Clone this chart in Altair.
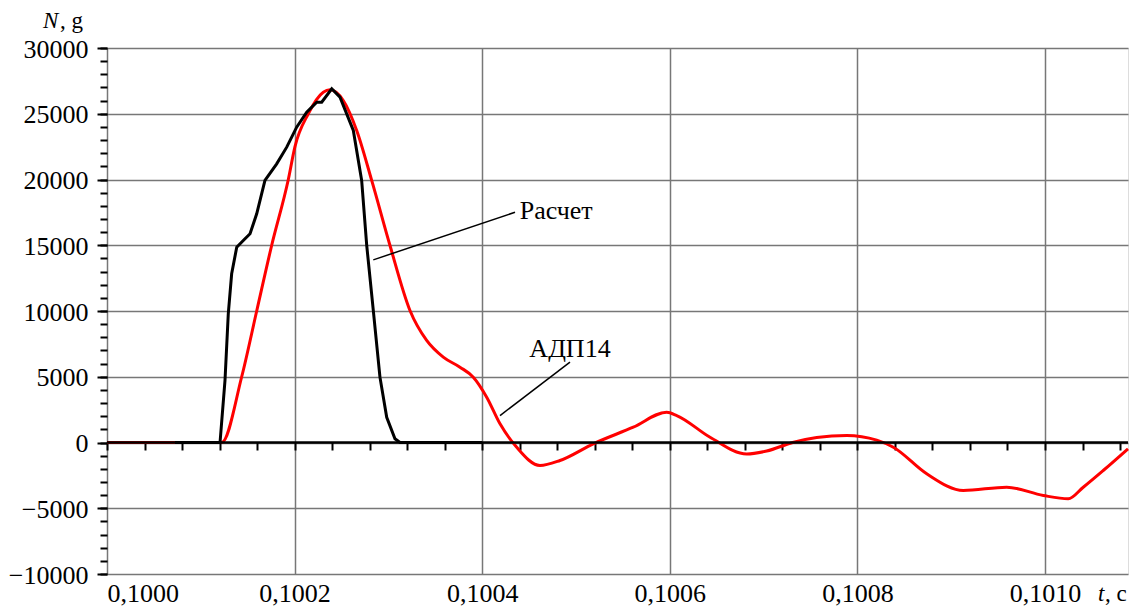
import altair as alt
import pandas as pd

# --- data ---
red_t = [0.1000000, 0.1001223, 0.1001436, 0.1001596, 0.1001756, 0.1001933, 0.1002004,
         0.1002146, 0.1002306, 0.1002377, 0.1002519, 0.1002662, 0.1002822, 0.1003017,
         0.1003230, 0.1003408, 0.1003585, 0.1003763, 0.1003905, 0.1004048, 0.1004190,
         0.1004368, 0.1004616, 0.1004829, 0.1005184, 0.1005611, 0.1005967, 0.1006074,
         0.1006429, 0.1006820, 0.1007033, 0.1007310, 0.1007566, 0.1007886, 0.1008206,
         0.1008383, 0.1008739, 0.1009129, 0.1009592, 0.1009982, 0.1010248, 0.1010408,
         0.1010621, 0.1010885]
red_v = [0, 0, 5000, 10000, 15000, 20000, 22500,
         25000, 26640, 26820, 26010, 23730, 19930, 14980,
         10040, 7760, 6490, 5730, 4970, 3450, 1420,
         -360, -1750, -1370, -100, 1160, 2300, 2050,
         400, -880, -650, 0, 380, 540, 180,
         -360, -2380, -3650, -3400, -4030, -4280, -3400,
         -2130, -480]

black_t = [0.1000725, 0.1001205, 0.1001258, 0.1001293, 0.1001329, 0.1001383, 0.1001453,
           0.1001525, 0.1001596, 0.1001684, 0.1001809, 0.1001916, 0.1002022, 0.1002129,
           0.1002236, 0.1002289, 0.1002396, 0.1002484, 0.1002626, 0.1002715, 0.1002769,
           0.1002839, 0.1002910, 0.1002982, 0.1003070, 0.1003124, 0.1004000]
black_v = [0, 0, 4720, 9790, 12830, 14850, 15360,
           15870, 17390, 19930, 21190, 22460, 23980, 25120,
           25880, 25880, 26900, 26260, 23730, 19930, 14980,
           10040, 4970, 1920, 280, 0, 0]

x_major = [0.1000, 0.1002, 0.1004, 0.1006, 0.1008, 0.1010]
x_minor = [round(0.1 + k * 0.00004, 6) for k in range(28)]
y_major = list(range(-10000, 30001, 5000))
y_minor = list(range(-10000, 30001, 1000))

ann_labels = ["Расчет", "АДП14"]
ann_text_t = [0.1004400, 0.1004936]
ann_text_v = [16960, 6490]
ann_align = ["left", "center"]
lead_t1 = [0.1002839, 0.1004190]
lead_v1 = [13890, 2050]
lead_t2 = [0.1004350, 0.1004936]
lead_v2 = [17510, 6110]

FONT = "Liberation Serif"
FS = 26
FS_T = 23
XD = [0.1, 0.1010885]
YD = [-10000, 30000]

red_df = pd.DataFrame({"t": red_t, "v": red_v})
black_df = pd.DataFrame({"t": black_t, "v": black_v})
ann_df = pd.DataFrame({"label": ann_labels, "t": ann_text_t, "v": ann_text_v, "align": ann_align})
lead_df = pd.DataFrame({"t1": lead_t1, "v1": lead_v1, "t2": lead_t2, "v2": lead_v2})
dom_df = pd.DataFrame({"t": XD, "v": YD})
zero_df = pd.DataFrame({"t1": [XD[0]], "t2": [XD[1]], "v": [0]})


def xs():
    return alt.Scale(domain=XD, nice=False, zero=False)


def ys():
    return alt.Scale(domain=YD, nice=False, zero=False)


red = alt.Chart(red_df).mark_line(color="#ff0000", strokeWidth=3, interpolate="monotone").encode(
    x=alt.X("t:Q", scale=xs(), axis=alt.Axis(
        orient="bottom", values=x_major, title=None, grid=True, gridColor="#777777",
        gridWidth=1.5, ticks=False, domain=False, labelFont=FONT, labelFontSize=FS,
        labelColor="black", labelPadding=27, labelBaseline="alphabetic",
        labelExpr="replace(format(datum.value, '.4f'), '.', ',')")),
    y=alt.Y("v:Q", scale=ys(), axis=alt.Axis(
        orient="left", values=y_major, title=None, grid=True, gridColor="#777777",
        gridWidth=1.5, tickSize=10, tickColor="black", tickWidth=2, domain=False,
        labelFont=FONT, labelFontSize=FS, labelColor="black", labelPadding=9,
        labelOffset=1, format="d")),
)

black = alt.Chart(black_df).mark_line(color="#000000", strokeWidth=3).encode(
    x=alt.X("t:Q", scale=xs(), axis=None),
    y=alt.Y("v:Q", scale=ys(), axis=None),
)

zero = alt.Chart(zero_df).mark_rule(color="black", strokeWidth=2.5).encode(
    x=alt.X("t1:Q", scale=xs(), axis=None),
    x2="t2:Q",
    y=alt.Y("v:Q", scale=ys(), axis=None),
)

minor_y = alt.Chart(dom_df).mark_point(opacity=0).encode(
    x=alt.X("t:Q", scale=xs(), axis=None),
    y=alt.Y("v:Q", scale=ys(), axis=alt.Axis(
        orient="left", values=y_minor, title=None, grid=False, labels=False, domain=False,
        tickSize=7, tickColor="black", tickWidth=2)),
)

minor_x = alt.Chart(dom_df).mark_point(opacity=0).encode(
    x=alt.X("t:Q", scale=xs(), axis=alt.Axis(
        orient="bottom", values=x_minor, title=None, grid=False, labels=False, domain=False,
        tickSize=8, tickColor="black", tickWidth=2, offset=-132)),
    y=alt.Y("v:Q", scale=ys(), axis=None),
)

leads = alt.Chart(lead_df).mark_rule(color="black", strokeWidth=1.5).encode(
    x=alt.X("t1:Q", scale=xs(), axis=None), x2="t2:Q",
    y=alt.Y("v1:Q", scale=ys(), axis=None), y2="v2:Q",
)

lab_left = alt.Chart(ann_df[ann_df["align"] == "left"]).mark_text(
    font=FONT, fontSize=FS, baseline="alphabetic", align="left", color="black").encode(
    x=alt.X("t:Q", scale=xs(), axis=None), y=alt.Y("v:Q", scale=ys(), axis=None), text="label:N")
lab_center = alt.Chart(ann_df[ann_df["align"] == "center"]).mark_text(
    font=FONT, fontSize=FS, baseline="alphabetic", align="center", color="black").encode(
    x=alt.X("t:Q", scale=xs(), axis=None), y=alt.Y("v:Q", scale=ys(), axis=None), text="label:N")


# axis titles (italic symbol + units)
def title_part(txt, x, y, italic):
    return alt.Chart(pd.DataFrame({"s": [txt]})).mark_text(
        font=FONT, fontSize=FS_T, fontStyle="italic" if italic else "normal",
        align="left", baseline="alphabetic", color="black").encode(
        text="s:N", x=alt.value(x), y=alt.value(y))


titles = (title_part("N", -64, -20, True) + title_part(", g", -47, -20, False)
          + title_part("t", 991, 553, True) + title_part(", c", 998, 553, False))

chart = alt.layer(
    minor_y, minor_x, red, black, zero, leads, lab_left, lab_center, titles
).resolve_scale(x="independent", y="independent").properties(
    width=1021, height=526,
    padding={"left": 99, "top": 40, "right": 2, "bottom": 33},
    autosize=alt.AutoSizeParams(type="none"),
).configure_view(stroke="black", strokeWidth=2.5).configure(background="white")

chart.save("out.html", embed_options={"renderer": "svg", "actions": False})
